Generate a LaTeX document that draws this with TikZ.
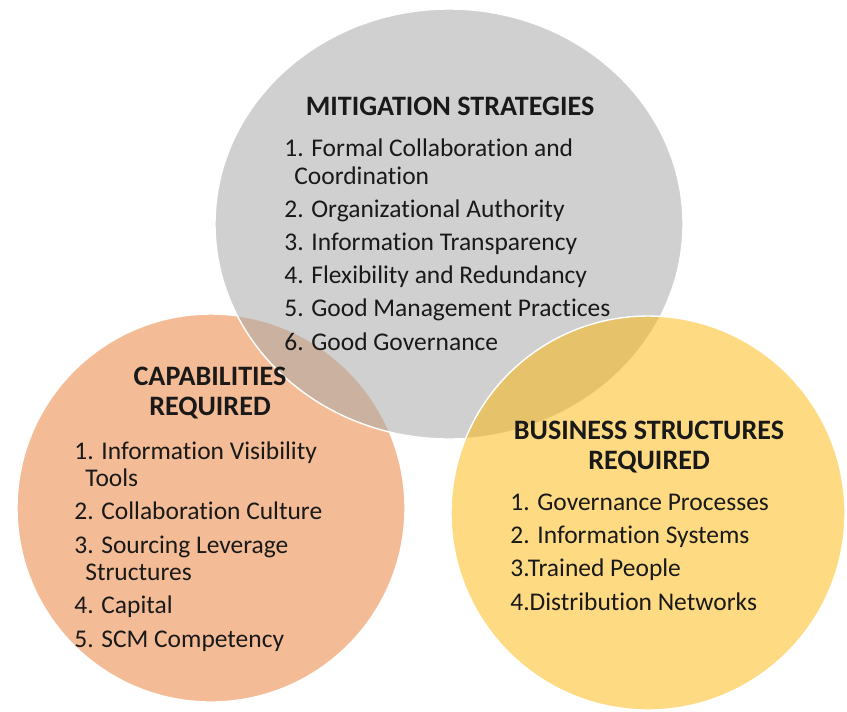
\documentclass[tikz,border=0pt]{standalone}
\usepackage{fontspec}
\setmainfont{Carlito}[Ligatures=NoCommon]
\usepackage{tikz}
\usetikzlibrary{positioning,shapes.geometric}
\definecolor{capfill}{RGB}{244,188,150}
\definecolor{mitfill}{RGB}{170,170,170}
\definecolor{busfill}{RGB}{253,180,0}
\tikzset{circ/.style={
    draw=white,
    line width=0.8pt,
    circle,
    inner sep=0pt,
  }}
\begin{document}
\begin{tikzpicture}[x=0.02cm,y=-0.02cm,
        title/.style={
          align=center, inner sep=0pt, anchor=base,
          font=\fontsize{16}{17}\selectfont\bfseries, text=black!90
        },
        items/.style={
          align=left, inner sep=0pt, anchor=base west,
          font=\fontsize{14.5}{15.9}\selectfont, text=black!90
        }]
        \useasboundingbox (0,0) rectangle (847,711);

        % Circles
        \node (capcirc) [circ, fill=capfill, minimum size=388*0.02cm] at (211,508) {};
        \node (mitcirc) [circ, ellipse, fill=mitfill, fill opacity=0.55,
          minimum width=468*0.02cm, minimum height=430*0.02cm] at (449,224) {};
        \node (buscirc) [circ, fill=busfill, fill opacity=0.49, minimum size=394*0.02cm] at (648,513) {};

        % Mitigation strategies (multi-line nodes sit on their last baseline)
        \node (mittitle) [title] at (450,115) {MITIGATION STRATEGIES};
        \node (mitlist) [items] at (284,350) {
          1. Formal Collaboration and\\
          \hspace{0.2cm}Coordination\\[2.9pt]
          2. Organizational Authority\\[2.9pt]
          3. Information Transparency\\[2.9pt]
          4. Flexibility and Redundancy\\[2.9pt]
          5. Good Management Practices\\[2.9pt]
          6. Good Governance
        };

        % Capabilities required
        \node (captitle) [title] at (210,415) {CAPABILITIES\\REQUIRED};
        \node (caplist) [items] at (74,647) {
          1. Information Visibility\\
          \hspace{0.22cm}Tools\\[2.9pt]
          2. Collaboration Culture\\[2.9pt]
          3. Sourcing Leverage\\
          \hspace{0.22cm}Structures\\[2.9pt]
          4. Capital\\[2.9pt]
          5. SCM Competency
        };

        % Business structures required
        \node (bustitle) [title] at (649,469) {BUSINESS STRUCTURES\\REQUIRED};
        \node (buslist) [items] at (510,610) {
          1. Governance Processes\\[2.9pt]
          2. Information Systems\\[2.9pt]
          3.Trained People\\[2.9pt]
          4.Distribution Networks
        };
      \end{tikzpicture}
\end{document}
